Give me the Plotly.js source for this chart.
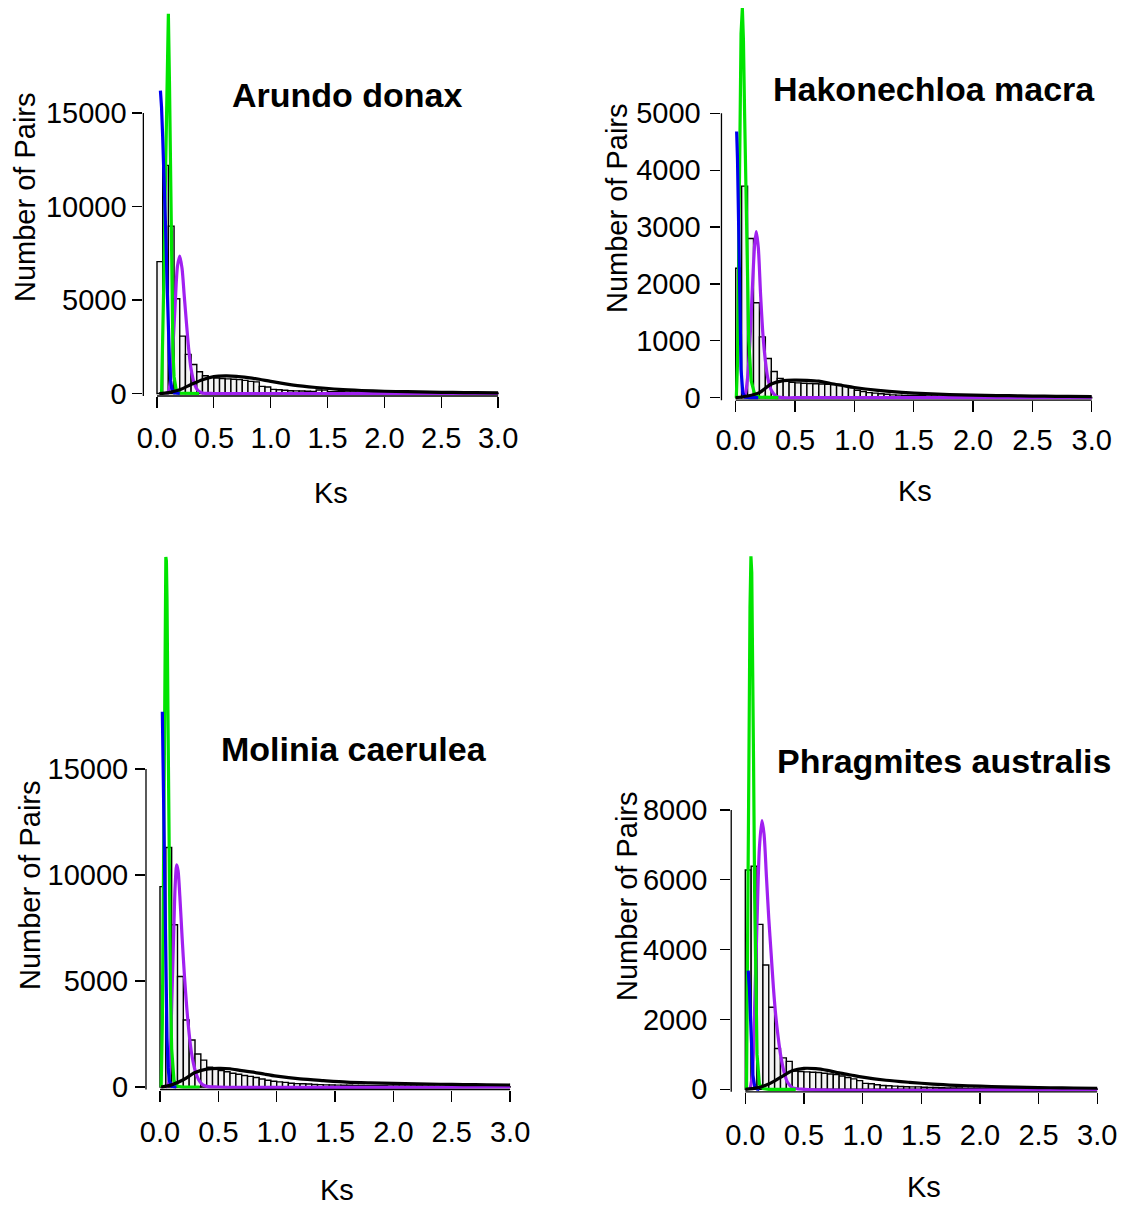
<!DOCTYPE html>
<html><head><meta charset="utf-8">
<script src="https://cdn.plot.ly/plotly-3.0.1.min.js"></script>
<style>html,body{margin:0;padding:0;background:#fff}#chart{width:1125px;height:1207px}</style>
</head><body><div id="chart"></div>
<script>
// ---------------- DATA ----------------
const binWidth = 0.05;
const xTickVals = [0, 0.5, 1, 1.5, 2, 2.5, 3];
const xTickText = ['0.0', '0.5', '1.0', '1.5', '2.0', '2.5', '3.0'];
const speciesNames = ['Arundo donax', 'Hakonechloa macra', 'Molinia caerulea', 'Phragmites australis'];
const yTickVals1 = [0, 5000, 10000, 15000];
const yTickVals2 = [0, 1000, 2000, 3000, 4000, 5000];
const yTickVals3 = [0, 5000, 10000, 15000];
const yTickVals4 = [0, 2000, 4000, 6000, 8000];

// histogram counts, bins of 0.05 from 0 to 3
const arundoCounts = [7050, 12200, 8950, 5070, 3070, 2090, 1550, 1160, 950, 880, 830, 800, 780, 760, 740, 700, 650, 620, 380, 350,
  220, 200, 170, 150, 140, 130, 120, 110, 190, 180, 100, 95, 90, 85, 80, 75, 70, 65, 60, 55,
  50, 48, 46, 44, 42, 40, 38, 36, 34, 32, 30, 28, 26, 24, 22, 20, 19, 18, 17, 16];
const hakonechloaCounts = [2275, 3720, 2800, 1670, 1070, 690, 460, 340, 300, 270, 260, 255, 250, 245, 240, 235, 230, 220, 205, 190,
  130, 110, 90, 80, 70, 60, 50, 45, 40, 38, 36, 34, 32, 30, 28, 26, 24, 22, 20, 19,
  18, 17, 16, 15, 14, 13, 12, 11, 10, 10, 9, 9, 8, 8, 7, 7, 6, 6, 5, 5];
const moliniaCounts = [9450, 11300, 7650, 5210, 3160, 2220, 1560, 1270, 930, 850, 780, 720, 650, 600, 540, 500, 450, 380, 320, 270,
  240, 220, 180, 160, 150, 140, 120, 110, 100, 95, 90, 85, 80, 75, 70, 65, 60, 58, 56, 54,
  52, 50, 48, 46, 44, 42, 40, 38, 36, 34, 32, 30, 28, 26, 24, 22, 20, 18, 16, 14];
const phragmitesCounts = [6280, 6390, 4725, 3560, 2350, 1170, 900, 800, 520, 510, 500, 490, 480, 460, 440, 420, 380, 340, 300, 250,
  170, 160, 130, 110, 100, 90, 80, 75, 70, 70, 60, 55, 50, 45, 40, 38, 36, 34, 32, 30,
  28, 26, 24, 22, 20, 19, 18, 17, 16, 15, 14, 13, 12, 11, 10, 10, 9, 30, 8, 8];

// fitted components (Ks, number of pairs)
const arundoBlueKs = [0.03, 0.04, 0.05, 0.06, 0.07, 0.08, 0.09, 0.10, 0.11, 0.12, 0.13, 0.15, 0.20];
const arundoBlue   = [16200, 15300, 13700, 12000, 10300, 8000, 5600, 3300, 1700, 700, 250, 40, 0];
const arundoGreenKs = [0.04, 0.05, 0.06, 0.07, 0.08, 0.09, 0.10, 0.11, 0.12, 0.13, 0.14, 0.15, 0.17, 0.20, 0.37];
const arundoGreen   = [0, 2500, 6000, 10000, 14300, 18300, 20300, 16500, 10500, 5500, 2300, 900, 150, 20, 0];
const arundoPurpleKs = [0.08, 0.10, 0.12, 0.14, 0.16, 0.18, 0.20, 0.22, 0.24, 0.26, 0.28, 0.30, 0.33, 0.36, 0.40, 0.50, 1.0, 2.0, 3.0];
const arundoPurple   = [0, 100, 800, 2500, 4800, 6800, 7350, 6700, 5200, 3700, 2300, 1300, 500, 150, 30, 0, 0, 0, 0];
const arundoBlackKs = [0.02, 0.1, 0.2, 0.3, 0.4, 0.5, 0.6, 0.7, 0.8, 0.9, 1.0, 1.2, 1.4, 1.6, 1.8, 2.0, 2.2, 2.4, 2.6, 2.8, 3.0];
const arundoBlack   = [0, 50, 200, 480, 740, 900, 940, 920, 850, 760, 650, 450, 320, 220, 160, 120, 95, 72, 55, 45, 35];

const hakoBlueKs = [0.008, 0.015, 0.025, 0.035, 0.045, 0.06, 0.08, 0.12, 0.19];
const hakoBlue   = [4680, 4200, 3000, 1600, 500, 80, 10, 0, 0];
const hakoGreenKs = [0.005, 0.015, 0.025, 0.035, 0.045, 0.056, 0.065, 0.075, 0.085, 0.095, 0.11, 0.13, 0.16, 0.20, 0.36];
const hakoGreen   = [0, 600, 2500, 4800, 6400, 6850, 6300, 5000, 3600, 2300, 1000, 300, 60, 10, 0];
const hakoPurpleKs = [0.06, 0.08, 0.10, 0.12, 0.14, 0.16, 0.173, 0.19, 0.21, 0.23, 0.25, 0.27, 0.30, 0.33, 0.36, 0.40, 0.50, 1.0, 2.0, 3.0];
const hakoPurple   = [0, 60, 350, 1000, 1900, 2700, 2920, 2650, 1800, 1100, 650, 350, 130, 45, 10, 0, 0, 0, 0, 0];
const hakoBlackKs = [0.0, 0.1, 0.2, 0.3, 0.4, 0.5, 0.6, 0.7, 0.8, 0.9, 1.0, 1.2, 1.4, 1.6, 1.8, 2.0, 2.2, 2.4, 2.6, 2.8, 3.0];
const hakoBlack   = [0, 30, 90, 240, 300, 310, 305, 290, 250, 215, 180, 130, 95, 70, 55, 45, 38, 32, 27, 22, 18];

const moliniaBlueKs = [0.02, 0.03, 0.04, 0.05, 0.06, 0.07, 0.08, 0.10, 0.14];
const moliniaBlue   = [17700, 14000, 9000, 5000, 2300, 900, 300, 30, 0];
const moliniaGreenKs = [0.01, 0.02, 0.03, 0.04, 0.05, 0.055, 0.06, 0.07, 0.08, 0.09, 0.10, 0.12, 0.15, 0.20, 0.34];
const moliniaGreen   = [0, 3000, 10000, 19500, 25000, 24800, 23000, 16500, 9500, 4500, 1800, 300, 30, 0, 0];
const moliniaPurpleKs = [0.05, 0.07, 0.09, 0.10, 0.11, 0.12, 0.13, 0.143, 0.155, 0.17, 0.19, 0.21, 0.23, 0.25, 0.27, 0.30, 0.33, 0.36, 0.40, 0.50, 3.0];
const moliniaPurple   = [0, 100, 1800, 3800, 5800, 7800, 9500, 10480, 10200, 9000, 7000, 5200, 3700, 2500, 1600, 800, 350, 130, 30, 0, 0];
const moliniaBlackKs = [0.01, 0.1, 0.2, 0.3, 0.4, 0.5, 0.6, 0.7, 0.8, 0.9, 1.0, 1.2, 1.4, 1.6, 1.8, 2.0, 2.2, 2.4, 2.6, 2.8, 3.0];
const moliniaBlack   = [0, 100, 340, 680, 840, 880, 860, 770, 700, 600, 510, 380, 300, 230, 195, 170, 150, 130, 115, 105, 95];

const phragBlueKs = [0.025, 0.035, 0.045, 0.055, 0.065, 0.08, 0.10, 0.12];
const phragBlue   = [3400, 2900, 2000, 1000, 400, 80, 10, 0];
const phragGreenKs = [0.01, 0.02, 0.03, 0.04, 0.048, 0.055, 0.06, 0.07, 0.08, 0.09, 0.10, 0.12, 0.15, 0.20, 0.43];
const phragGreen   = [0, 3500, 9000, 13800, 15270, 14800, 13500, 9500, 5500, 2700, 1000, 150, 20, 0, 0];
const phragPurpleKs = [0.04, 0.06, 0.08, 0.10, 0.12, 0.142, 0.16, 0.18, 0.20, 0.22, 0.24, 0.26, 0.28, 0.30, 0.33, 0.36, 0.40, 0.50, 3.0];
const phragPurple   = [0, 400, 2400, 4800, 6900, 7700, 7300, 6100, 4900, 3900, 2900, 2100, 1500, 1000, 500, 200, 50, 0, 0];
const phragBlackKs = [0.0, 0.1, 0.2, 0.3, 0.4, 0.5, 0.6, 0.7, 0.8, 0.9, 1.0, 1.2, 1.4, 1.6, 1.8, 2.0, 2.2, 2.4, 2.6, 2.8, 3.0];
const phragBlack   = [0, 40, 150, 340, 530, 600, 590, 540, 470, 410, 350, 260, 200, 150, 115, 90, 70, 55, 45, 38, 30];

// ---------------- LAYOUT GEOMETRY (pixels) ----------------
const W = 1125, H = 1207;
const FONT = 'Liberation Sans, Arial, Helvetica, sans-serif';
const panels = [
  {counts: arundoCounts, blue: [arundoBlueKs, arundoBlue], green: [arundoGreenKs, arundoGreen], purple: [arundoPurpleKs, arundoPurple], black: [arundoBlackKs, arundoBlack],
   yticks: yTickVals1, x0: 157, ppu: 113.7, base: 393.5, ppc: 0.0187, ytop: 21000,
   title: [347, 95], ylab: [25, 197], xlab: [331, 493], ystand: 0, xstand: 5},
  {counts: hakonechloaCounts, blue: [hakoBlueKs, hakoBlue], green: [hakoGreenKs, hakoGreen], purple: [hakoPurpleKs, hakoPurple], black: [hakoBlackKs, hakoBlack],
   yticks: yTickVals2, x0: 735.7, ppu: 118.67, base: 397.7, ppc: 0.05688, ytop: 6950,
   title: [934, 89], ylab: [617, 208], xlab: [915, 491], ystand: 4, xstand: 3},
  {counts: moliniaCounts, blue: [moliniaBlueKs, moliniaBlue], green: [moliniaGreenKs, moliniaGreen], purple: [moliniaPurpleKs, moliniaPurple], black: [moliniaBlackKs, moliniaBlack],
   yticks: yTickVals3, x0: 160, ppu: 116.7, base: 1087, ppc: 0.0212, ytop: 25500,
   title: [354, 749], ylab: [30, 885], xlab: [337, 1190], ystand: 1, xstand: 6},
  {counts: phragmitesCounts, blue: [phragBlueKs, phragBlue], green: [phragGreenKs, phragGreen], purple: [phragPurpleKs, phragPurple], black: [phragBlackKs, phragBlack],
   yticks: yTickVals4, x0: 745.3, ppu: 117.3, base: 1089.3, ppc: 0.03491, ytop: 15500,
   title: [944, 761], ylab: [627, 896], xlab: [924, 1187], ystand: 7, xstand: 6}
];

const traces = [];
const layout = {
  width: W, height: H, margin: {l: 0, r: 0, t: 0, b: 0},
  paper_bgcolor: '#fff', plot_bgcolor: 'rgba(0,0,0,0)', showlegend: false,
  font: {family: FONT, color: '#000'},
  annotations: [], shapes: []
};
const px2x = p => p / W;
const px2y = p => 1 - p / H;

panels.forEach((P, i) => {
  const n = i === 0 ? '' : String(i + 1);
  const xa = 'x' + n, ya = 'y' + n;
  const leftPx = P.x0 - 0.12 * P.ppu, rightPx = P.x0 + 3.12 * P.ppu;
  const pad = 2.5;
  const botPx = P.base + pad, topPx = P.base - P.ytop * P.ppc;
  layout['xaxis' + n] = {
    domain: [px2x(leftPx), px2x(rightPx)], range: [-0.12, 3.12], anchor: ya,
    tickmode: 'array', tickvals: xTickVals, ticktext: xTickText,
    ticks: 'outside', ticklen: 11, tickwidth: 1.3, tickcolor: '#000',
    showgrid: false, zeroline: false, showline: false,
    tickfont: {family: FONT, size: 29, color: '#000'}, ticklabelstandoff: P.xstand
  };
  layout['yaxis' + n] = {
    domain: [px2y(botPx), px2y(topPx)], range: [-pad / P.ppc, P.ytop], anchor: xa,
    tickmode: 'array', tickvals: P.yticks, ticktext: P.yticks.map(String),
    ticks: 'outside', ticklen: 10, tickwidth: 1.3, tickcolor: '#000',
    showgrid: false, zeroline: false, showline: false,
    tickfont: {family: FONT, size: 29, color: '#000'}, ticklabelstandoff: P.ystand
  };
  // R-style axis lines (only between first and last tick)
  const maxTick = P.yticks[P.yticks.length - 1];
  layout.shapes.push({type: 'line', xref: 'paper', yref: 'paper',
    x0: px2x(leftPx), x1: px2x(leftPx), y0: px2y(botPx), y1: px2y(P.base - maxTick * P.ppc),
    line: {color: '#000', width: 1.3}});
  layout.shapes.push({type: 'line', xref: 'paper', yref: 'paper',
    x0: px2x(P.x0), x1: px2x(P.x0 + 3 * P.ppu), y0: px2y(botPx), y1: px2y(botPx),
    line: {color: '#000', width: 1.3}});

  traces.push({type: 'bar', xaxis: xa, yaxis: ya,
    x: P.counts.map((c, k) => (k + 0.5) * binWidth), y: P.counts, width: binWidth,
    marker: {color: '#f3f3f3', line: {color: '#000', width: 1.4}}, hoverinfo: 'skip'});
  const addLine = (d, color, shape) => traces.push({type: 'scatter', mode: 'lines', xaxis: xa, yaxis: ya,
    x: d[0], y: d[1], line: {color: color, width: 3.2, shape: shape, smoothing: 0.8}, hoverinfo: 'skip'});
  addLine(P.purple, '#a020f0', 'spline');
  addLine(P.green, '#00e400', 'linear');
  addLine(P.blue, '#0000ee', 'linear');
  addLine(P.black, '#000000', 'spline');

  layout.annotations.push({xref: 'paper', yref: 'paper', x: px2x(P.title[0]), y: px2y(P.title[1]),
    xanchor: 'center', yanchor: 'middle', showarrow: false,
    text: '<b>' + speciesNames[i] + '</b>', font: {family: FONT, size: 34, color: '#000'}});
  layout.annotations.push({xref: 'paper', yref: 'paper', x: px2x(P.ylab[0]), y: px2y(P.ylab[1]),
    xanchor: 'center', yanchor: 'middle', showarrow: false, textangle: -90,
    text: 'Number of Pairs', font: {family: FONT, size: 29, color: '#000'}});
  layout.annotations.push({xref: 'paper', yref: 'paper', x: px2x(P.xlab[0]), y: px2y(P.xlab[1]),
    xanchor: 'center', yanchor: 'middle', showarrow: false,
    text: 'Ks', font: {family: FONT, size: 29, color: '#000'}});
});

Plotly.newPlot('chart', traces, layout, {displayModeBar: false, staticPlot: true});
</script></body></html>
